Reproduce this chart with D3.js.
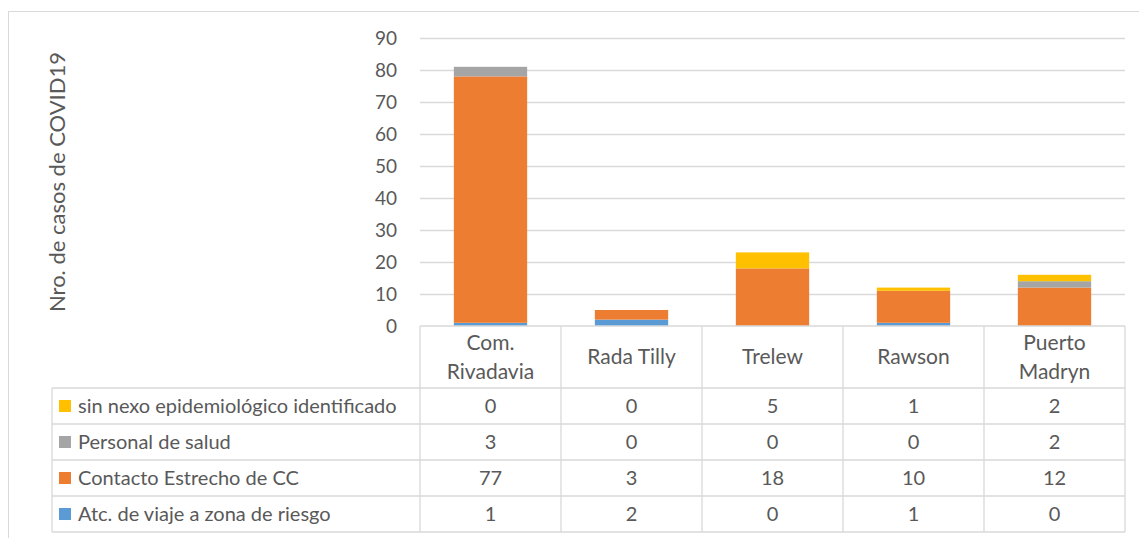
<!DOCTYPE html>
<html>
<head>
<meta charset="utf-8">
<script src="https://cdn.jsdelivr.net/npm/d3@7"></script>
<style>
  body { margin: 0; background: #fff; }
  text { font-family: Lato, "Open Sans", sans-serif; fill: #595959; }
</style>
</head>
<body>
<svg id="chart" width="1139" height="538"></svg>
<script>
// data
const cities = ["Com. Rivadavia", "Rada Tilly", "Trelew", "Rawson", "Puerto Madryn"];
const cityLines = [["Com.", "Rivadavia"], ["Rada Tilly"], ["Trelew"], ["Rawson"], ["Puerto", "Madryn"]];
const seriesNames = ["Atc. de viaje a zona de riesgo", "Contacto Estrecho de CC", "Personal de salud", "sin nexo epidemiológico identificado"];
const viaje = [1, 2, 0, 1, 0];
const contacto = [77, 3, 18, 10, 12];
const salud = [3, 0, 0, 0, 2];
const sinNexo = [0, 0, 5, 1, 2];
const yTicks = [0, 10, 20, 30, 40, 50, 60, 70, 80, 90];
const colors = ["#5B9BD5", "#ED7D31", "#A5A5A5", "#FFC000"];

const seriesValues = [viaje, contacto, salud, sinNexo];
let rows = cities.map((c, i) => {
  let r = {city: c};
  seriesNames.forEach((s, k) => { r[s] = seriesValues[k][i]; });
  return r;
});

let svg = d3.select("#chart");
const plotL = 420, plotR = 1125, plotT = 38, plotB = 326;
const tableL = 52, headerB = 388, rowH = 36;

// chart frame
svg.append("rect").
attr("x", 8.5).attr("y", 11.5).
attr("width", 1140).attr("height", 540).
attr("fill", "none").attr("stroke", "#D9D9D9");

let x = d3.scaleBand().domain(cities).range([plotL, plotR]).paddingInner(0.48).paddingOuter(0.24);
let y = d3.scaleLinear().domain([0, 90]).range([plotB, plotT]);

// gridlines
svg.append("g").selectAll("line").
data(yTicks.slice(1)).
enter().append("line").
attr("x1", plotL).attr("x2", plotR).
attr("y1", d => Math.round(y(d)) + 0.5).attr("y2", d => Math.round(y(d)) + 0.5).
attr("stroke", "#D9D9D9").attr("stroke-width", 1.3);

// y axis labels
let yAxis = svg.append("g").
attr("transform", "translate(" + (plotL - 8) + ",0)").
call(d3.axisLeft(y).tickValues(yTicks).tickSize(0).tickPadding(15));
yAxis.select(".domain").remove();
yAxis.selectAll("text").
style("font-size", "19px").style("font-family", "Lato, sans-serif").attr("fill", "#595959");

// axis title
svg.append("text").
attr("transform", "translate(65,182) rotate(-90)").
attr("text-anchor", "middle").
style("font-size", "22px").
text("Nro. de casos de COVID19");

// stacked bars
let stack = d3.stack().keys(seriesNames);
let layers = stack(rows);

svg.append("g").selectAll("g").
data(layers).
enter().append("g").
attr("fill", (d, i) => colors[i]).
selectAll("rect").
data(d => d).
enter().append("rect").
attr("x", d => x(d.data.city)).
attr("width", x.bandwidth()).
attr("y", d => y(d[1])).
attr("height", d => y(d[0]) - y(d[1]));

// data table
let colEdges = cities.map(c => x(c) - x.step() * x.paddingInner() / 2);
colEdges.push(plotR);
let table = svg.append("g").attr("stroke", "#D9D9D9").attr("stroke-width", 1.3);

// vertical lines
colEdges.forEach(cx => {
  table.append("line").attr("x1", cx).attr("x2", cx).attr("y1", plotB).attr("y2", headerB + rowH * 4);
});
table.append("line").attr("x1", tableL).attr("x2", tableL).attr("y1", headerB).attr("y2", headerB + rowH * 4);
// horizontal lines
table.append("line").attr("x1", plotL).attr("x2", plotR).attr("y1", plotB).attr("y2", plotB);
for (let r = 0; r <= 4; r++) {
  table.append("line").attr("x1", tableL).attr("x2", plotR).
  attr("y1", headerB + rowH * r).attr("y2", headerB + rowH * r);
}

// header labels
let header = svg.append("g").selectAll("text").
data(cityLines).
enter().append("text").
attr("text-anchor", "middle").
attr("x", (d, i) => x(cities[i]) + x.bandwidth() / 2).
style("font-size", "21px");
header.selectAll("tspan").
data(d => d.map((t, j) => ({t: t, j: j, n: d.length}))).
enter().append("tspan").
attr("x", function () { return d3.select(this.parentNode).attr("x"); }).
attr("y", d => (plotB + headerB) / 2 + 7 + (d.j - (d.n - 1) / 2) * 29).
text(d => d.t);

// table rows: top row is the top stack series
let tableRows = seriesNames.map((s, k) => ({name: s, color: colors[k], vals: seriesValues[k]})).reverse();

let rowG = svg.append("g").selectAll("g").
data(tableRows).
enter().append("g").
attr("transform", (d, i) => "translate(0," + (headerB + rowH * i + rowH / 2) + ")");

rowG.append("rect").
attr("x", 59).attr("y", -6).
attr("width", 12).attr("height", 12).
attr("fill", d => d.color);

rowG.append("text").
attr("x", 78).attr("y", 7).
style("font-size", "20px").
text(d => d.name);

rowG.selectAll("text.val").
data(d => d.vals).
enter().append("text").
attr("class", "val").
attr("text-anchor", "middle").
attr("x", (d, i) => x(cities[i]) + x.bandwidth() / 2).
attr("y", 7).
style("font-size", "20px").
text(d => d);
</script>
</body>
</html>
